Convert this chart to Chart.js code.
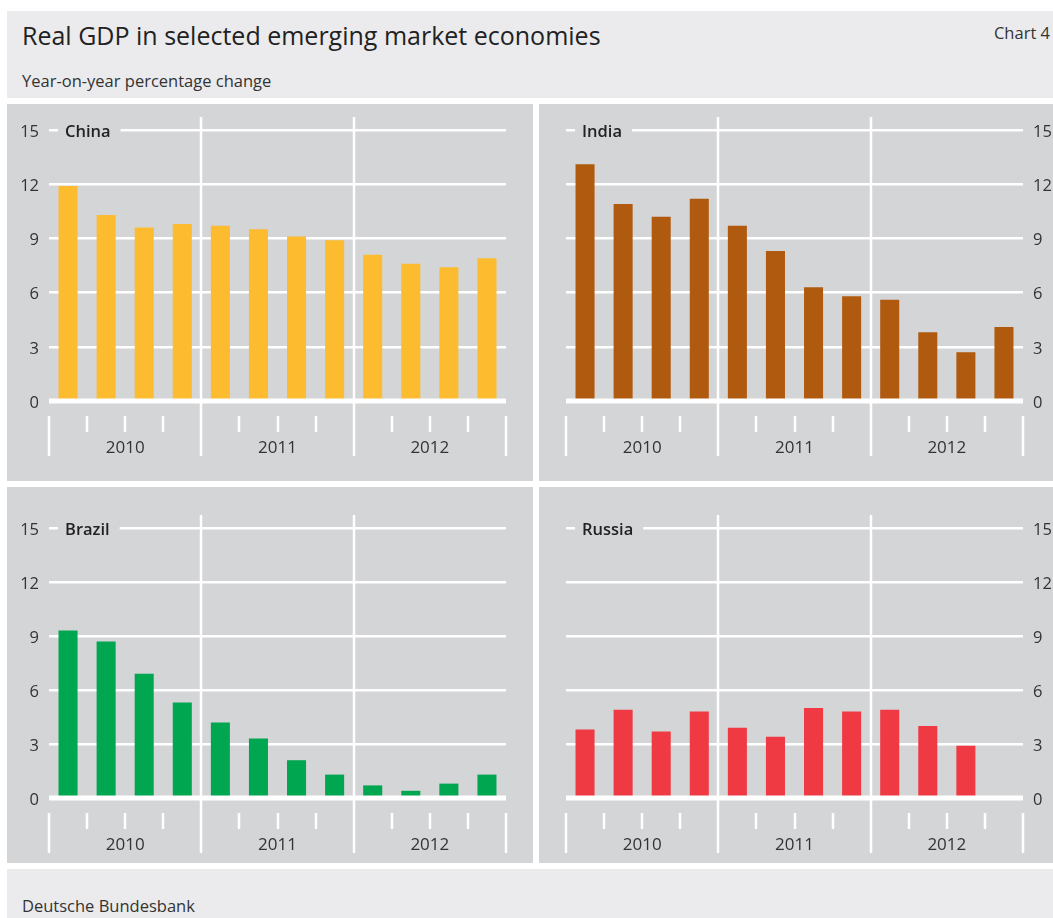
<!DOCTYPE html>
<html>
<head>
<meta charset="utf-8">
<script src="https://cdn.jsdelivr.net/npm/chart.js@4"></script>
<style>
  body { margin: 0; background: #fff; width: 1053px; height: 918px; position: relative; overflow: hidden;
         font-family: "Open Sans", "Noto Sans", sans-serif; color: #333; }
  .box { position: absolute; }
  #head { left: 7px; top: 11px; width: 1046px; height: 87px; background: #ebebed; }
  #foot { left: 7px; top: 869px; width: 1046px; height: 49px; background: #ebebed; }
  .panel { position: absolute; background: #d4d5d7; }
  #title { position: absolute; left: 15px; top: 7px; font-size: 25px; font-weight: 500; color: #222; }
  #chartno { position: absolute; right: 3px; top: 10px; font-size: 16.5px; }
  #sub { position: absolute; left: 15px; top: 58px; font-size: 16.5px; }
  #src { position: absolute; left: 15px; top: 25px; font-size: 16.5px; }
</style>
</head>
<body>
<div class="box" id="head">
  <div id="title">Real GDP in selected emerging market economies</div>
  <div id="chartno">Chart 4</div>
  <div id="sub">Year-on-year percentage change</div>
</div>
<div class="panel" style="left:7px;top:104px;width:526px;height:377px"><canvas id="c1" width="526" height="377"></canvas></div>
<div class="panel" style="left:539px;top:104px;width:514px;height:377px"><canvas id="c2" width="514" height="377"></canvas></div>
<div class="panel" style="left:7px;top:487px;width:526px;height:376px"><canvas id="c3" width="526" height="376"></canvas></div>
<div class="panel" style="left:539px;top:487px;width:514px;height:376px"><canvas id="c4" width="514" height="376"></canvas></div>
<div class="box" id="foot"><div id="src">Deutsche Bundesbank</div></div>

<script>
// quarters 2010 Q1 .. 2012 Q4
const quarters = ['2010 Q1','2010 Q2','2010 Q3','2010 Q4','2011 Q1','2011 Q2','2011 Q3','2011 Q4','2012 Q1','2012 Q2','2012 Q3','2012 Q4'];
const years = ['2010', '2011', '2012'];
const yTicks = [0, 3, 6, 9, 12, 15];

const china  = [11.9, 10.3, 9.6, 9.8, 9.7, 9.5, 9.1, 8.9, 8.1, 7.6, 7.4, 7.9];
const india  = [13.1, 10.9, 10.2, 11.2, 9.7, 8.3, 6.3, 5.8, 5.6, 3.8, 2.7, 4.1];
const brazil = [9.3, 8.7, 6.9, 5.3, 4.2, 3.3, 2.1, 1.3, 0.7, 0.4, 0.8, 1.3];
const russia = [3.8, 4.9, 3.7, 4.8, 3.9, 3.4, 5.0, 4.8, 4.9, 4.0, 2.9, null];

const PANEL_BG = '#d4d5d7';
const FONT = '"Open Sans", "Noto Sans", sans-serif';

// draws the year separators, quarter ticks, year labels, zero line and panel name
const decor = {
  id: 'decor',
  beforeDatasetsDraw(chart) {
    const ctx = chart.ctx, x = chart.scales.x, a = chart.chartArea;
    ctx.save();
    ctx.strokeStyle = '#fff';
    ctx.lineWidth = 2.5;
    for (let i = 0; i <= quarters.length; i++) {
      const px = Math.round(x.getPixelForValue(i - 0.5));
      ctx.beginPath();
      if (i % 4 === 0) {
        const inner = i > 0 && i < quarters.length;
        ctx.moveTo(px, inner ? a.top - 13 : a.bottom + 15);
        ctx.lineTo(px, a.bottom + 55);
      } else {
        ctx.moveTo(px, a.bottom + 15);
        ctx.lineTo(px, a.bottom + 31);
      }
      ctx.stroke();
    }
    ctx.fillStyle = '#333';
    ctx.font = '17px ' + FONT;
    ctx.textAlign = 'center';
    ctx.textBaseline = 'middle';
    years.forEach((y, k) => {
      ctx.fillText(y, x.getPixelForValue(k * 4 + 1.5), a.bottom + 47);
    });
    ctx.restore();
  },
  afterDatasetsDraw(chart, args, opts) {
    const ctx = chart.ctx, a = chart.chartArea, y = chart.scales.y;
    ctx.save();
    ctx.fillStyle = '#fff';
    const y0 = y.getPixelForValue(0);
    ctx.fillRect(a.left, y0 - 2.5, a.right - a.left, 5);
    // panel name sitting on the top gridline
    const yt = y.getPixelForValue(15);
    ctx.font = '600 16.5px ' + FONT;
    const w = ctx.measureText(opts.name).width;
    ctx.fillStyle = PANEL_BG;
    ctx.fillRect(a.left + 9, yt - 3, w + 17, 6);
    ctx.fillStyle = '#222';
    ctx.textBaseline = 'middle';
    ctx.fillText(opts.name, a.left + 16, yt + 2);
    ctx.restore();
  }
};

function makePanel(id, name, values, color, side, top, bottom) {
  const left = side === 'left';
  new Chart(document.getElementById(id), {
    type: 'bar',
    data: {
      labels: quarters,
      datasets: [{ data: values, backgroundColor: color, categoryPercentage: 1, barPercentage: 0.5 }]
    },
    options: {
      responsive: false,
      animation: false,
      devicePixelRatio: 1,
      layout: { padding: { top: top, bottom: bottom, left: left ? 0 : 27, right: left ? 27 : 0 } },
      plugins: { legend: { display: false }, tooltip: { enabled: false }, decor: { name: name } },
      scales: {
        x: { display: false },
        y: {
          position: side,
          min: 0, max: 15,
          afterFit(s) { s.width = left ? 42 : 30; },
          afterBuildTicks(s) { s.ticks = yTicks.map(v => ({ value: v })); },
          border: { display: false },
          grid: { color: '#fff', lineWidth: 2.5, drawTicks: false },
          ticks: { padding: 10, labelOffset: 2, color: '#333', font: { family: FONT, size: 16.5 } }
        }
      }
    },
    plugins: [decor]
  });
}

makePanel('c1', 'China',  china,  '#fdbb30', 'left',  26, 80);
makePanel('c2', 'India',  india,  '#b05a10', 'right', 26, 80);
makePanel('c3', 'Brazil', brazil, '#00a650', 'left',  41, 65);
makePanel('c4', 'Russia', russia, '#ef3a43', 'right', 41, 65);
</script>
</body>
</html>
